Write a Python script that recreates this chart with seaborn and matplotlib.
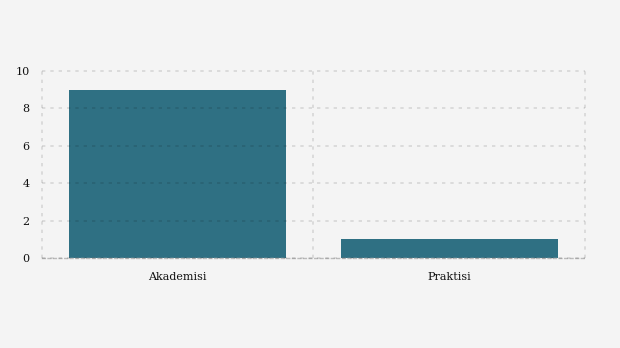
import matplotlib
matplotlib.use("Agg")
import matplotlib.pyplot as plt
import seaborn as sns
import pandas as pd
from matplotlib.ticker import FixedLocator

categories = ["Akademisi", "Praktisi"]
values = [9, 1]

df = pd.DataFrame({"kategori": categories, "jumlah": values})

sns.set_style("whitegrid")
plt.rcParams["font.family"] = ["DejaVu Serif"]

fig = plt.figure(figsize=(6.2, 3.48), dpi=100, facecolor="#f4f4f4")
ax = fig.add_axes([0.0677, 0.2586, 0.8758, 0.5374])
ax.set_facecolor("#f4f4f4")

sns.barplot(data=df, x="kategori", y="jumlah", color="#2f7083", saturation=1,
            width=0.8, linewidth=0, ax=ax)

ax.set_xlim(-0.5, 1.5)
ax.set_ylim(0, 10)
ax.set_yticks([0, 2, 4, 6, 8, 10])
ax.xaxis.set_minor_locator(FixedLocator([-0.5, 0.5, 1.5]))
ax.grid(False)
ax.grid(axis="y", which="major", color="black", alpha=0.12, linestyle=(0, (2, 3)), linewidth=1.2)
ax.grid(axis="x", which="minor", color="black", alpha=0.12, linestyle=(0, (2, 3)), linewidth=1.2)
ax.set_axisbelow(False)
for t in ax.xaxis.get_minor_ticks() + ax.yaxis.get_major_ticks():
    t.gridline.set_clip_on(False)
for p in ax.patches:
    p.set_zorder(1)
ax.set_xlabel("")
ax.set_ylabel("")
for s in ["top", "right", "left"]:
    ax.spines[s].set_visible(False)
ax.spines["bottom"].set_color("#bbbbbb")
ax.spines["bottom"].set_linestyle((0, (2, 2)))
ax.spines["bottom"].set_linewidth(1)
ax.tick_params(axis="x", which="major", length=3, color="#dddddd", labelsize=8, pad=7, labelcolor="#111111")
ax.tick_params(axis="x", which="minor", length=0)
ax.tick_params(axis="y", length=0, labelsize=8, pad=9, labelcolor="#111111")

fig.savefig("out.png", dpi=100, facecolor="#f4f4f4")
